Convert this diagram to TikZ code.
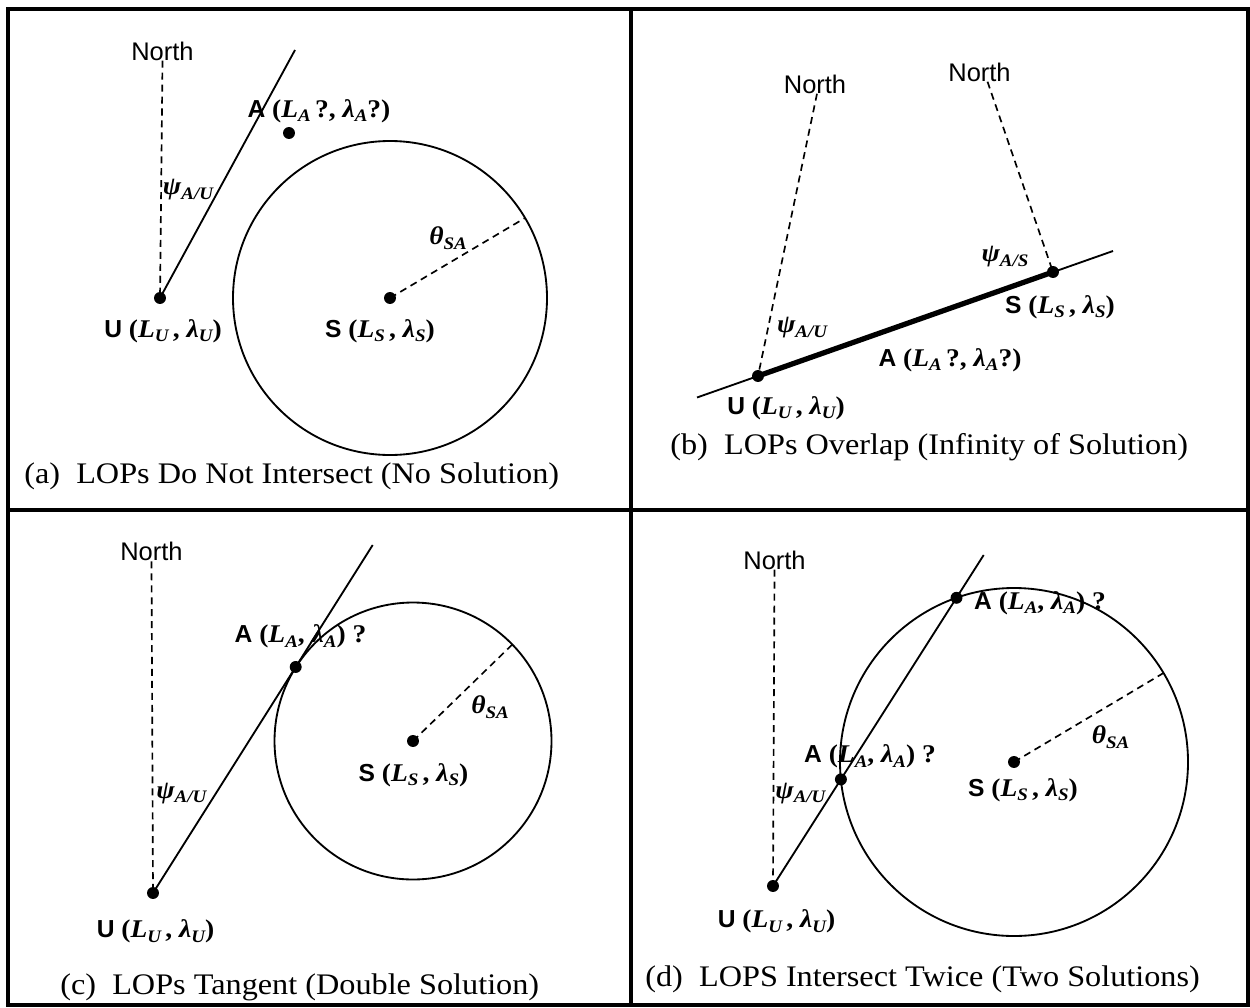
\documentclass[tikz,border=0pt]{standalone}
\usepackage{fontspec}
\setmainfont[FakeStretch=1.08]{Liberation Serif}
\newfontfamily\sansf{Liberation Sans}
\usetikzlibrary{calc}
\newcommand\SF[1]{{\sansf\bfseries\fontsize{14}{14}\selectfont #1}}
\newcommand\BI[1]{{\bfseries\itshape #1}}
\newcommand\SB[1]{\raisebox{-0.4ex}{\fontsize{10}{10}\selectfont\bfseries\itshape #1}}
\tikzset{
  dot/.style={circle, fill=black, inner sep=0pt, minimum size=6.8pt},
  northlbl/.style={font=\sansf\fontsize{14.5}{14.5}\selectfont, inner sep=0pt},
  lbl/.style={font=\fontsize{14.5}{15}\selectfont, inner sep=0pt},
  caplbl/.style={font=\fontsize{17}{18}\selectfont, inner sep=0pt, anchor=west},
  dsh/.style={dash pattern=on 4pt off 2.8pt, line width=0.95pt},
  lop/.style={line width=1.05pt},
  ring/.style={line width=1.05pt},
  framing/.style={line width=1.8pt},
  thickseg/.style={line width=3pt},
}
\begin{document}
\begin{tikzpicture}[x=0.02cm, y=-0.02cm]
\useasboundingbox (0,0) rectangle (1250,1007);
% frame
\draw[framing] (8,9) rectangle (1248,1005);
\draw[framing] (631,9) -- (631,1005);
\draw[framing] (8,510) -- (1248,510);

% ---------------- (a)
\node[northlbl] (Na) at (162.5,51) {North};
\node[dot] (Ua) at (160,298) {};
\node[dot] (Sa) at (390,298) {};
\node[dot] (Aa) at (289,133) {};
\coordinate (Ta) at (295,50);
\coordinate (Ra) at ($(Sa)+(135,-80)$);
\draw[ring] (Sa) circle[radius=157];
\draw[dsh] (Na.south) -- (Ua.center);
\draw[lop] (Ua.center) -- (Ta);
\draw[dsh] (Sa.center) -- (Ra);
\node[lbl] (AaL) at (319,111) {\SF{A} {\bfseries(\BI{L}\SB{A}\,?, \BI{λ}\SB{A}?)}};
\node[lbl] (PsiA) at (188,190) {\BI{ψ}\SB{A/U}};
\node[lbl] (ThA) at (448,238) {\BI{θ}\SB{SA}};
\node[lbl] (UaL) at (163,331) {\SF{U} {\bfseries(\BI{L}\SB{U}\,, \BI{λ}\SB{U})}};
\node[lbl] (SaL) at (380,331) {\SF{S} {\bfseries(\BI{L}\SB{S}\,, \BI{λ}\SB{S})}};
\node[caplbl] (Ca) at (24,476) {(a)\ \ LOPs Do Not Intersect (No Solution)};

% ---------------- (b)
\node[northlbl] (Nb1) at (815,84) {North};
\node[northlbl] (Nb2) at (979.5,72) {North};
\node[dot] (Ub) at (758,376) {};
\node[dot] (Sb) at (1053,272) {};
\coordinate (Lb1) at (697,397.5);
\coordinate (Lb2) at (1113,251);
\draw[lop] (Lb1) -- (Lb2);
\draw[thickseg] (Ub.center) -- (Sb.center);
\draw[dsh] ($(Nb1.south)+(2,0)$) -- (Ub.center);
\draw[dsh] ($(Nb2.south)+(8,0)$) -- (Sb.center);
\node[lbl] (PsiBS) at (1005,257) {\BI{ψ}\SB{A/S}};
\node[lbl] (PsiBU) at (802,328) {\BI{ψ}\SB{A/U}};
\node[lbl] (SbL) at (1060,307) {\SF{S} {\bfseries(\BI{L}\SB{S}\,, \BI{λ}\SB{S})}};
\node[lbl] (AbL) at (950,360) {\SF{A} {\bfseries(\BI{L}\SB{A}\,?, \BI{λ}\SB{A}?)}};
\node[lbl] (UbL) at (786,408) {\SF{U} {\bfseries(\BI{L}\SB{U}\,, \BI{λ}\SB{U})}};
\node[caplbl] (Cb) at (670,447) {(b)\ \ LOPs Overlap (Infinity of Solution)};

% ---------------- (c)
\node[northlbl] (Nc) at (151.5,551.7) {North};
\node[dot] (Uc) at (153,893) {};
\node[dot] (Sc) at (413,741) {};
\coordinate (Tc) at (372.7,545);
\coordinate (Acp) at ($(Uc)!(Sc)!(Tc)$);
\node[dot] (Ac) at (Acp) {};
\draw[ring] let \p1=($(Sc)-(Acp)$), \n1={veclen(\x1,\y1)} in (Sc) circle[radius=\n1];
\draw[dsh] (Nc.south) -- (Uc.center);
\draw[lop] (Uc.center) -- (Tc);
\coordinate (Rc) at ($(Sc)+(99.5,-96.7)$);
\draw[dsh] (Sc.center) -- (Rc);
\node[lbl] (ThC) at (490,707) {\BI{θ}\SB{SA}};
\node[lbl] (ScL) at (413.5,775) {\SF{S} {\bfseries(\BI{L}\SB{S}\,, \BI{λ}\SB{S})}};
\node[lbl] (AcL) at (300.5,636.7) {\SF{A} {\bfseries(\BI{L}\SB{A}, \BI{λ}\SB{A}) ?}};
\node[lbl] (PsiC) at (181.3,793.3) {\BI{ψ}\SB{A/U}};
\node[lbl] (UcL) at (155.5,931.7) {\SF{U} {\bfseries(\BI{L}\SB{U}\,, \BI{λ}\SB{U})}};
\node[caplbl] (Cc) at (60,987) {(c)\ \ LOPs Tangent (Double Solution)};

% ---------------- (d)
\node[northlbl] (Nd) at (774.5,560) {North};
\node[dot] (Ud) at (773,886) {};
\node[dot] (Sd) at (1014,762) {};
\coordinate (Td) at (983.7,555);
\draw[ring] (Sd) circle[radius=174];
\draw[dsh] (Nd.south) -- (Ud.center);
\draw[lop] (Ud.center) -- (Td);
\node[dot] (A1d) at (840.9,779.4) {};
\node[dot] (A2d) at (956.5,597.8) {};
\coordinate (Rd) at ($(Sd)+(149,-88.7)$);
\draw[dsh] (Sd.center) -- (Rd);
\node[lbl] (ThD) at (1110.5,737) {\BI{θ}\SB{SA}};
\node[lbl] (SdL) at (1023,790) {\SF{S} {\bfseries(\BI{L}\SB{S}\,, \BI{λ}\SB{S})}};
\node[lbl] (A1L) at (870,756.7) {\SF{A} {\bfseries(\BI{L}\SB{A}, \BI{λ}\SB{A}) ?}};
\node[lbl] (A2L) at (1040,603) {\SF{A} {\bfseries(\BI{L}\SB{A}, \BI{λ}\SB{A}) ?}};
\node[lbl] (PsiD) at (800.4,793.3) {\BI{ψ}\SB{A/U}};
\node[lbl] (UdL) at (776.5,921.7) {\SF{U} {\bfseries(\BI{L}\SB{U}\,, \BI{λ}\SB{U})}};
\node[caplbl] (Cd) at (645,979) {(d)\ \ LOPS Intersect Twice (Two Solutions)};
\end{tikzpicture}
\end{document}
